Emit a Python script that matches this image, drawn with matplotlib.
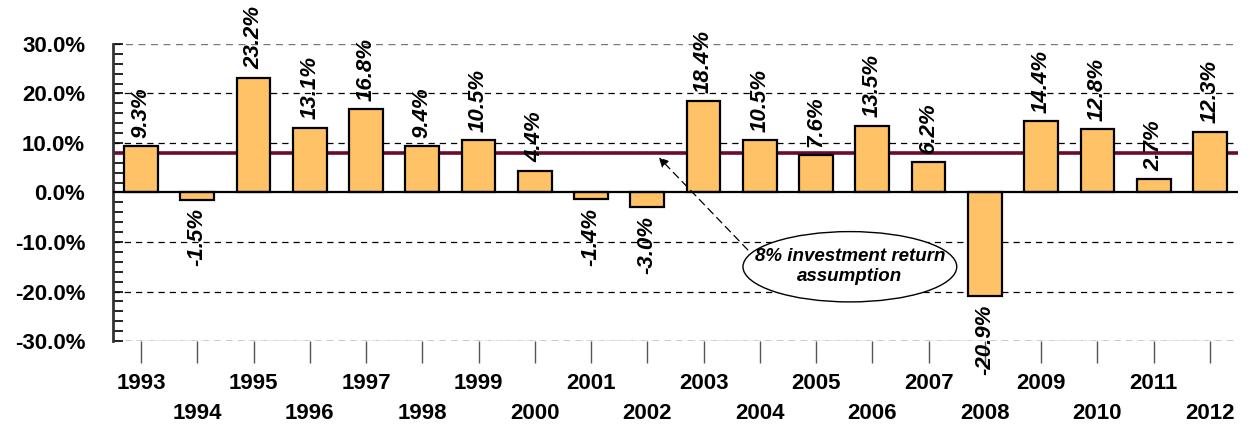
import matplotlib.pyplot as plt
import numpy as np
from matplotlib.patches import Ellipse
from matplotlib.ticker import MultipleLocator, FuncFormatter

# Annual investment returns (%)
years = ["1993", "1994", "1995", "1996", "1997", "1998", "1999", "2000", "2001", "2002",
         "2003", "2004", "2005", "2006", "2007", "2008", "2009", "2010", "2011", "2012"]
returns = [9.3, -1.5, 23.2, 13.1, 16.8, 9.4, 10.5, 4.4, -1.4, -3.0,
           18.4, 10.5, 7.6, 13.5, 6.2, -20.9, 14.4, 12.8, 2.7, 12.3]
assumption = 8.0

plt.rcParams['font.family'] = ['Liberation Sans', 'DejaVu Sans']

fig = plt.figure(figsize=(12.48, 4.25), dpi=100)
ax = fig.add_axes([0.0905, 0.1976, 0.9015, 0.699])

x = np.arange(len(years))
ax.bar(x, returns, width=0.6, color="#FFC266", edgecolor="black", linewidth=1.6, zorder=3)

# grid lines
for v in [-30, -20, -10, 10, 20]:
    ax.axhline(v, color="black", linestyle=(0, (5, 4)), linewidth=0.9, zorder=1)
ax.axhline(30, color="#777777", linestyle=(0, (5, 4)), linewidth=1.0, zorder=1)
ax.axhline(-30, color="#777777", linestyle=(0, (5, 4)), linewidth=1.0, zorder=1)
ax.axhline(0, color="black", linewidth=1.6, zorder=4)
ax.axhline(assumption, color="#6B0A2E", linewidth=2.6, zorder=2)

# value labels
for xi, v in zip(x, returns):
    if v >= 0:
        ax.annotate(f"{v:.1f}%", (xi, v), xytext=(0, 6), textcoords="offset points",
                    rotation=90, ha="center", va="bottom", fontsize=16,
                    fontweight="bold", fontstyle="italic", zorder=5)
    else:
        ax.annotate(f"{v:.1f}%", (xi, v), xytext=(0, -6), textcoords="offset points",
                    rotation=90, ha="center", va="top", fontsize=16,
                    fontweight="bold", fontstyle="italic", zorder=5)

# callout
ell = Ellipse((12.6, -15.0), 3.8, 14.2, facecolor="white", edgecolor="black",
              linewidth=1.0, zorder=6)
ax.add_patch(ell)
ax.text(12.6, -15.0, "8% investment return\nassumption", ha="center", va="center",
        fontsize=13.5, fontweight="bold", fontstyle="italic", linespacing=1.2, zorder=7)
ax.annotate("", xy=(9.17, 7.5), xytext=(10.82, -12.0),
            arrowprops=dict(arrowstyle="-|>", color="black", linestyle=(0, (6, 4)),
                            linewidth=0.9, mutation_scale=14), zorder=7)

ax.set_xlim(-0.5, len(years) - 0.5)
ax.set_ylim(-30, 30)

ax.yaxis.set_major_locator(MultipleLocator(10))
ax.yaxis.set_minor_locator(MultipleLocator(2))
ax.yaxis.set_major_formatter(FuncFormatter(lambda v, p: f"{v:.1f}%"))
ax.tick_params(axis="y", which="both", direction="in", length=7, width=1.2,
               labelsize=16, pad=20)
for lbl in ax.get_yticklabels():
    lbl.set_fontweight("bold")

ax.set_xticks(x)
ax.set_xticklabels([y if i % 2 == 0 else "\n" + y for i, y in enumerate(years)],
                   fontsize=16, fontweight="bold", linespacing=1.55)
ax.tick_params(axis="x", direction="out", length=16, width=1.0, color="#555555", pad=7)

for s in ["top", "right", "bottom"]:
    ax.spines[s].set_visible(False)
ax.spines["left"].set_linewidth(2.0)
ax.spines["left"].set_color("#333333")

fig.savefig("out.png", dpi=100)
